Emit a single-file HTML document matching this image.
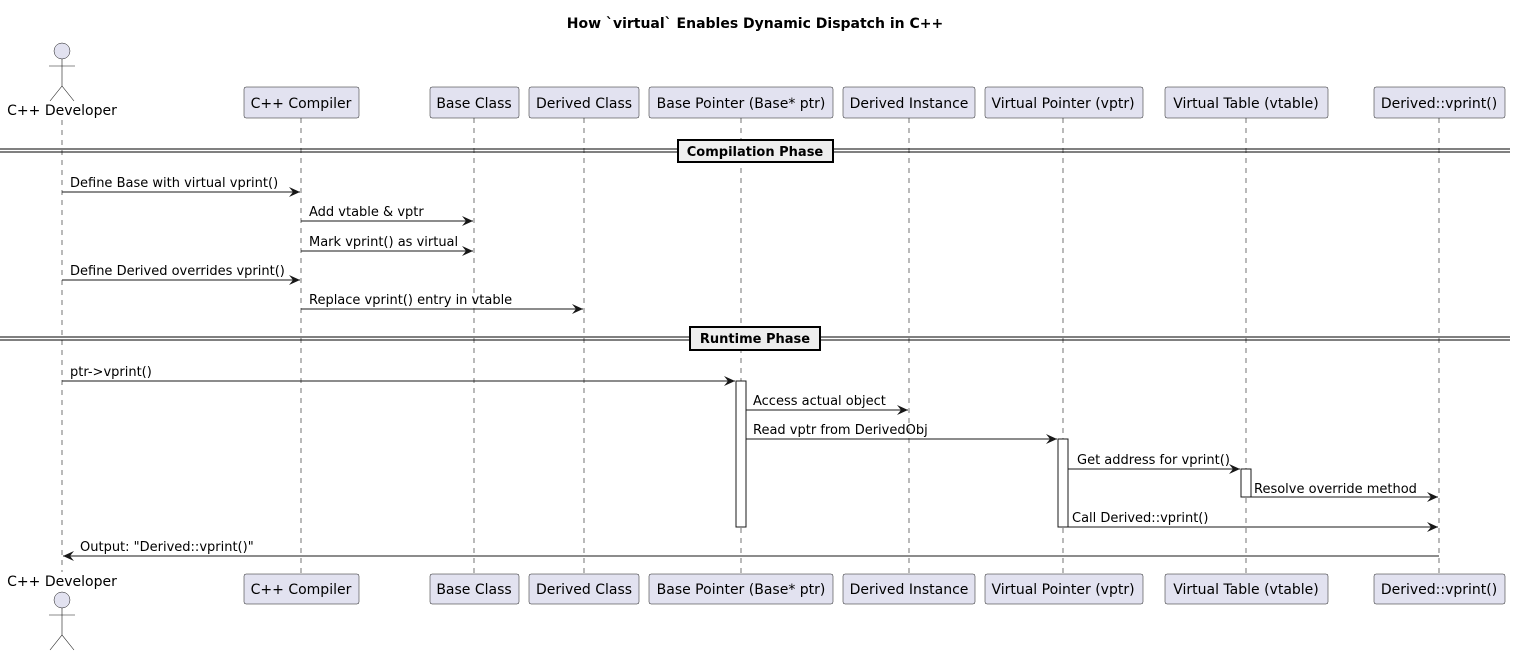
<!DOCTYPE html>
<html><head><meta charset="utf-8"><style>html,body{margin:0;padding:0;background:#fff}svg{display:block}</style></head><body>
<svg width="1515" height="654" xmlns="http://www.w3.org/2000/svg" font-family="DejaVu Sans, Liberation Sans, sans-serif">
<defs><marker id="a" markerWidth="12" markerHeight="10" refX="11" refY="5" orient="auto" markerUnits="userSpaceOnUse"><path d="M0,0 L11,5 L0,10 L4,5 Z" fill="#181818"/></marker></defs>
<text x="755" y="28" text-anchor="middle" font-size="14" font-weight="bold">How `virtual` Enables Dynamic Dispatch in C++</text>
<g stroke="#181818" stroke-width="0.6" stroke-dasharray="5,5">
<line x1="62" y1="120" x2="62" y2="572"/><line x1="301" y1="118" x2="301" y2="574"/><line x1="474" y1="118" x2="474" y2="574"/><line x1="584" y1="118" x2="584" y2="574"/><line x1="741" y1="118" x2="741" y2="574"/><line x1="909" y1="118" x2="909" y2="574"/><line x1="1063" y1="118" x2="1063" y2="574"/><line x1="1246" y1="118" x2="1246" y2="574"/><line x1="1439" y1="118" x2="1439" y2="574"/>
</g>
<g fill="#E2E2F0" stroke="#181818" stroke-width="0.5">
<rect x="244" y="87" width="115" height="31" rx="2"/><rect x="430" y="87" width="89" height="31" rx="2"/><rect x="529" y="87" width="110" height="31" rx="2"/><rect x="649" y="87" width="184" height="31" rx="2"/><rect x="843" y="87" width="132" height="31" rx="2"/><rect x="985" y="87" width="158" height="31" rx="2"/><rect x="1165" y="87" width="163" height="31" rx="2"/><rect x="1374" y="87" width="131" height="31" rx="2"/>
<rect x="244" y="574" width="115" height="30" rx="2"/><rect x="430" y="574" width="89" height="30" rx="2"/><rect x="529" y="574" width="110" height="30" rx="2"/><rect x="649" y="574" width="184" height="30" rx="2"/><rect x="843" y="574" width="132" height="30" rx="2"/><rect x="985" y="574" width="158" height="30" rx="2"/><rect x="1165" y="574" width="163" height="30" rx="2"/><rect x="1374" y="574" width="131" height="30" rx="2"/>
<circle cx="62" cy="51" r="8"/><circle cx="62" cy="600" r="8"/>
</g>
<g stroke="#181818" stroke-width="0.6" fill="none">
<path d="M62,59 V86 M49,66 H75 M62,86 L50,101 M62,86 L74,101"/>
<path d="M62,608 V635 M49,615 H75 M62,635 L50,650 M62,635 L74,650"/>
</g>
<g font-size="14" text-anchor="middle" fill="#000">
<text x="62" y="115">C++ Developer</text><text x="62" y="586">C++ Developer</text>
<text x="301" y="108">C++ Compiler</text><text x="474" y="108">Base Class</text><text x="584" y="108">Derived Class</text><text x="741" y="108">Base Pointer (Base* ptr)</text><text x="909" y="108">Derived Instance</text><text x="1063" y="108">Virtual Pointer (vptr)</text><text x="1246" y="108">Virtual Table (vtable)</text><text x="1439" y="108">Derived::vprint()</text>
<text x="301" y="594">C++ Compiler</text><text x="474" y="594">Base Class</text><text x="584" y="594">Derived Class</text><text x="741" y="594">Base Pointer (Base* ptr)</text><text x="909" y="594">Derived Instance</text><text x="1063" y="594">Virtual Pointer (vptr)</text><text x="1246" y="594">Virtual Table (vtable)</text><text x="1439" y="594">Derived::vprint()</text>
</g>
<g stroke="#000" stroke-width="1">
<line x1="0" y1="149" x2="1510" y2="149"/><line x1="0" y1="152" x2="1510" y2="152"/>
<line x1="0" y1="337" x2="1510" y2="337"/><line x1="0" y1="340" x2="1510" y2="340"/>
</g>
<rect x="678" y="140" width="155" height="22" fill="#EEEEEE" stroke="#000" stroke-width="2"/>
<text x="755" y="156" text-anchor="middle" font-size="13" font-weight="bold">Compilation Phase</text>
<rect x="690" y="327" width="130" height="23" fill="#EEEEEE" stroke="#000" stroke-width="2"/>
<text x="755" y="343" text-anchor="middle" font-size="13" font-weight="bold">Runtime Phase</text>
<g fill="#fff" stroke="#181818" stroke-width="1">
<rect x="736" y="381" width="10" height="146"/><rect x="1058" y="439" width="10" height="88"/><rect x="1241" y="469" width="10" height="28"/>
</g>
<g stroke="#181818" stroke-width="1" marker-end="url(#a)">
<line x1="62" y1="192" x2="300" y2="192"/><line x1="301" y1="221" x2="473" y2="221"/><line x1="301" y1="251" x2="473" y2="251"/><line x1="62" y1="280" x2="300" y2="280"/><line x1="301" y1="309" x2="583" y2="309"/>
<line x1="62" y1="381" x2="735" y2="381"/><line x1="746" y1="410" x2="908" y2="410"/><line x1="746" y1="439" x2="1057" y2="439"/><line x1="1068" y1="469" x2="1240" y2="469"/><line x1="1251" y1="497" x2="1438" y2="497"/><line x1="1068" y1="527" x2="1438" y2="527"/><line x1="1439" y1="556" x2="63" y2="556"/>
</g>
<g font-size="13" fill="#000">
<text x="70" y="187">Define Base with virtual vprint()</text><text x="309" y="216">Add vtable &amp; vptr</text><text x="309" y="246">Mark vprint() as virtual</text><text x="70" y="275">Define Derived overrides vprint()</text><text x="309" y="304">Replace vprint() entry in vtable</text>
<text x="70" y="376">ptr-&gt;vprint()</text><text x="753" y="405">Access actual object</text><text x="753" y="434">Read vptr from DerivedObj</text><text x="1077" y="464">Get address for vprint()</text><text x="1254" y="493">Resolve override method</text><text x="1072" y="522">Call Derived::vprint()</text><text x="80" y="551">Output: "Derived::vprint()"</text>
</g>
</svg>
</body></html>
